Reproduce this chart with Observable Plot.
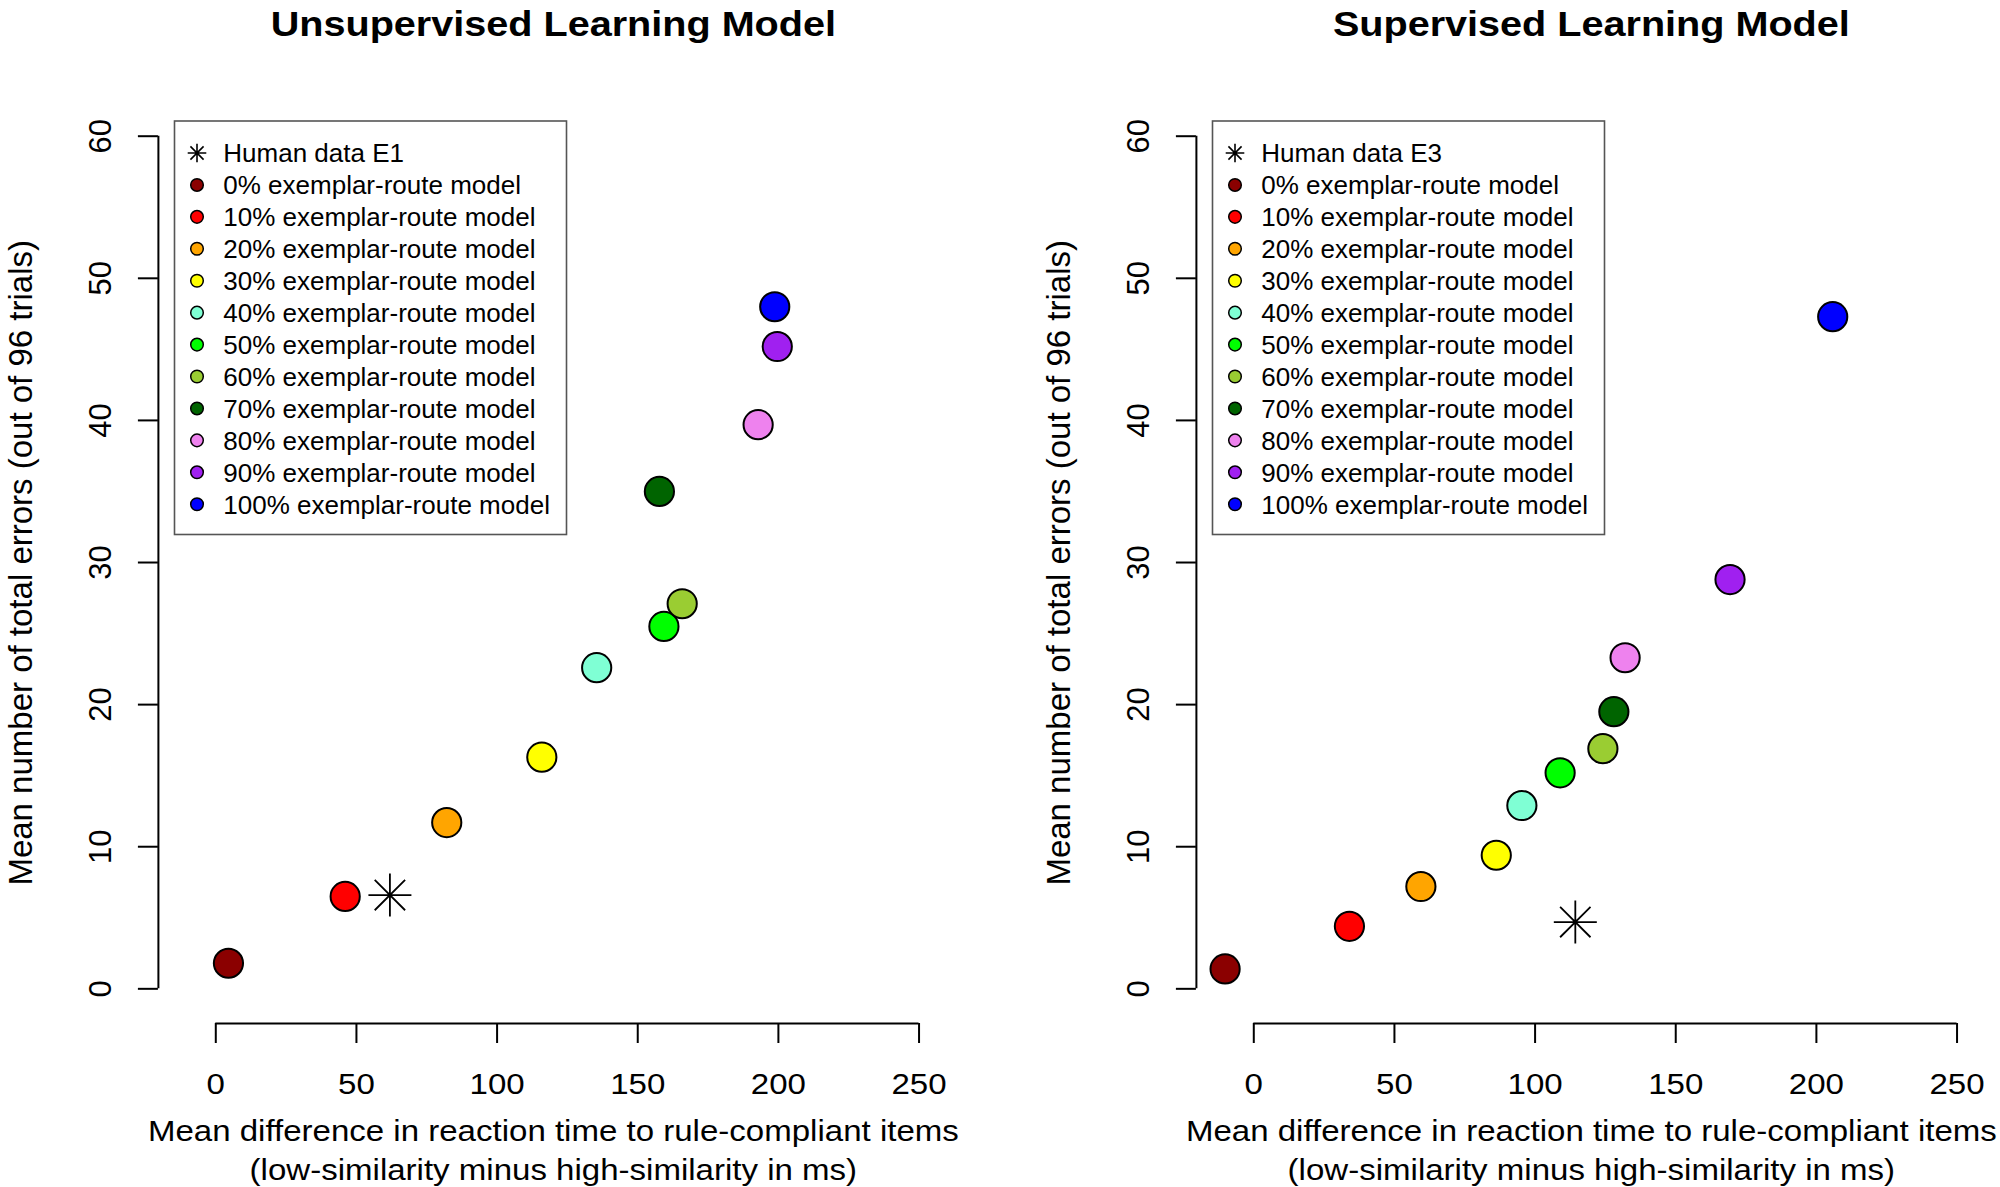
<!DOCTYPE html>
<html>
<head>
<meta charset="utf-8">
<script src="https://cdn.jsdelivr.net/npm/d3@7"></script>
<script src="https://cdn.jsdelivr.net/npm/@observablehq/plot@0.6"></script>
<style>
  html, body { margin: 0; padding: 0; background: #fff; }
  #wrap { display: flex; width: 2000px; height: 1187px; }
  #wrap > svg { flex: none; }
</style>
</head>
<body>
<div id="wrap"></div>
<script>
// ---------- data ----------
const modelLabels = [
  "0% exemplar-route model", "10% exemplar-route model", "20% exemplar-route model",
  "30% exemplar-route model", "40% exemplar-route model", "50% exemplar-route model",
  "60% exemplar-route model", "70% exemplar-route model", "80% exemplar-route model",
  "90% exemplar-route model", "100% exemplar-route model"
];
const modelColors = ["#8B0000", "#FF0000", "#FFA500", "#FFFF00", "#7FFFD4", "#00FF00",
  "#9ACD32", "#006400", "#EE82EE", "#A020F0", "#0000FF"];

// Unsupervised panel (x = RT difference ms, y = total errors)
const unsupX = [4.5, 46.0, 82.1, 115.9, 135.4, 159.3, 165.8, 157.7, 192.8, 199.6, 198.7];
const unsupY = [1.8, 6.5, 11.7, 16.3, 22.6, 25.5, 27.1, 35.0, 39.7, 45.2, 48.0];
const humanE1 = [61.9, 6.6];

// Supervised panel
const supX = [-10.2, 34.0, 59.4, 86.2, 95.3, 108.9, 124.1, 128.0, 132.0, 169.3, 205.8];
const supY = [1.4, 4.4, 7.2, 9.4, 12.9, 15.2, 16.9, 19.5, 23.3, 28.8, 47.3];
const humanE3 = [114.3, 4.7];

const xTicks = [0, 50, 100, 150, 200, 250];
const yTicks = [0, 10, 20, 30, 40, 50, 60];
const xDomain = [-20.4, 260.4];
const yDomain = [-2.44, 62.4];

const titles = ["Unsupervised Learning Model", "Supervised Learning Model"];
const humanLabels = ["Human data E1", "Human data E3"];
const xLabel = "Mean difference in reaction time to rule-compliant items\n(low-similarity minus high-similarity in ms)";
const yLabel = "Mean number of total errors (out of 96 trials)";

// ---------- helpers ----------
const FONT = '"Liberation Sans", Arial, Helvetica, sans-serif';

// R pch = 8 : plus and cross superimposed, equal arms
const asterisk8 = {
  draw(ctx, size) {
    const r = Math.sqrt(size / Math.PI);
    const d = r * Math.SQRT1_2;
    ctx.moveTo(-r, 0); ctx.lineTo(r, 0);
    ctx.moveTo(0, -r); ctx.lineTo(0, r);
    ctx.moveTo(-d, -d); ctx.lineTo(d, d);
    ctx.moveTo(-d, d); ctx.lineTo(d, -d);
  }
};

function stretchEl(t, s) {
  t.setAttribute("transform", (t.getAttribute("transform") || "") + ` scale(${s},1)`);
}

function panel({title, human, humanLabel, xs, ys, marginLeft, marginRight}) {
  const data = xs.map((x, i) => ({x, y: ys[i], color: modelColors[i], label: modelLabels[i]}));
  const svg = Plot.plot({
    width: 1000,
    height: 1187,
    marginTop: 101.6,
    marginBottom: 164,
    marginLeft,
    marginRight,
    style: {fontFamily: FONT, background: "#fff", color: "#000", overflow: "visible"},
    x: {domain: xDomain},
    y: {domain: yDomain},
    marks: [
      Plot.ruleY([yDomain[0]], {x1: xTicks[0], x2: xTicks[xTicks.length - 1], strokeWidth: 2}),
      Plot.ruleX([xDomain[0]], {y1: yTicks[0], y2: yTicks[yTicks.length - 1], strokeWidth: 2}),
      Plot.axisX(xTicks, {tickSize: 20, tickPadding: 30, fontSize: 29.5, strokeWidth: 2, label: null}),
      Plot.axisY(yTicks, {tickSize: 20, tickPadding: 27.5, tickRotate: -90, fontSize: 31, strokeWidth: 2, label: null}),
      Plot.text([xLabel], {frameAnchor: "bottom", dy: 90, lineAnchor: "top", lineHeight: 1.31, fontSize: 29.5}),
      Plot.text([yLabel], {frameAnchor: "left", dx: -126, rotate: -90, textAnchor: "middle", lineAnchor: "bottom", fontSize: 33}),
      Plot.text([title], {frameAnchor: "top", dy: -66.6, lineAnchor: "bottom", fontSize: 36, fontWeight: "bold"}),
      Plot.dot(data, {x: "x", y: "y", r: 14.6, fill: "color", stroke: "black", strokeWidth: 2}),
      Plot.dot([human], {x: d => d[0], y: d => d[1], r: 21.5, symbol: asterisk8, fill: "none", stroke: "black", strokeWidth: 1.8})
    ]
  });

  // slightly wider glyphs, as in the reference rendering
  svg.querySelectorAll('g[aria-label="x-axis tick label"] text').forEach(t => stretchEl(t, 1.12));
  svg.querySelectorAll("text").forEach(t => {
    const s = t.textContent;
    if (s === title) stretchEl(t, 1.1);
    else if (s.startsWith("Mean difference")) stretchEl(t, 1.12);
  });

  // legend (R-style box legend inside the plot region)
  const entries = [{label: humanLabel, star: true}].concat(modelLabels.map((l, i) => ({label: l, color: modelColors[i]})));
  const g = d3.select(svg).append("g")
    .attr("aria-label", "legend")
    .attr("text-anchor", "start")
    .attr("transform", `translate(${marginLeft + 16.6},121)`);
  g.append("rect")
    .attr("width", 392).attr("height", 413.5)
    .attr("fill", "#fff").attr("stroke", "#555").attr("stroke-width", 1.6);
  const row = g.selectAll("g.row").data(entries).join("g")
    .attr("class", "row")
    .attr("transform", (d, i) => `translate(0,${32 + i * 31.93})`);
  row.filter(d => d.star).append("path")
    .attr("transform", "translate(22.5,0)")
    .attr("d", d3.symbol(asterisk8, Math.PI * 9.3 * 9.3)())
    .attr("fill", "none").attr("stroke", "#000").attr("stroke-width", 1.6);
  row.filter(d => !d.star).append("circle")
    .attr("cx", 22.5).attr("cy", 0).attr("r", 6.3)
    .attr("fill", d => d.color).attr("stroke", "#000").attr("stroke-width", 1.5);
  row.append("text")
    .attr("x", 48.8).attr("y", 9.3)
    .attr("text-anchor", "start")
    .attr("font-size", 26).attr("font-family", FONT).attr("fill", "#000")
    .text(d => d.label);

  return svg;
}

const wrap = document.getElementById("wrap");
wrap.append(panel({title: titles[0], human: humanE1, humanLabel: humanLabels[0], xs: unsupX, ys: unsupY, marginLeft: 157.9, marginRight: 52.2}));
wrap.append(panel({title: titles[1], human: humanE3, humanLabel: humanLabels[1], xs: supX, ys: supY, marginLeft: 195.9, marginRight: 14.2}));
</script>
</body>
</html>
